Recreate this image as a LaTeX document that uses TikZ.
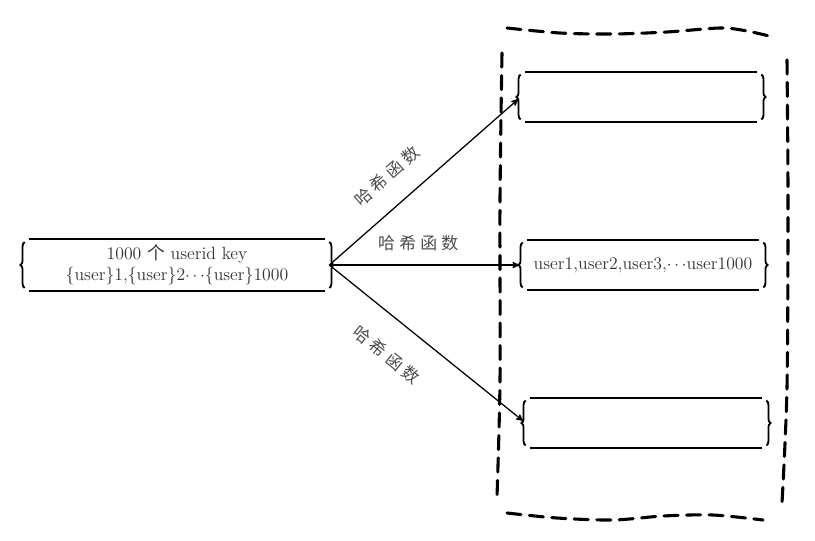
\documentclass[tikz,border=0pt]{standalone}
\usepackage{fontspec}
\newfontfamily\cjk{Noto Sans CJK SC}
\usetikzlibrary{arrows}
\usetikzlibrary{decorations.pathreplacing}

\newcommand{\hashname}{哈\hspace{3pt}希\hspace{3pt}函\hspace{3pt}数}

\tikzset{
	slotbox/.style={minimum width=6cm, minimum height=1.25cm, inner sep=0pt, font=\fontsize{12.6}{15}\selectfont, text=black!80},
	edge/.style={line width=1.3pt},
	curly/.style={edge, decorate, decoration={brace, amplitude=3pt}},
	fence/.style={line width=2.2pt, dash pattern=on 10pt off 6pt, line cap=round},
	hash/.style={->, >=stealth', line width=0.9pt, shorten >=2pt},
	hashlabel/.style={font=\cjk\large, text=black!70, sloped},
}

\begin{document}
\begin{tikzpicture}[x=0.025cm, y=-0.025cm]
					\useasboundingbox (0,0) rectangle (815,540);
					% dashed container
					\draw[fence] plot[smooth] coordinates {(507,28) (560,33) (613,34) (667,32) (720,28) (747,31) (773,37)};
					\draw[fence] plot[smooth] coordinates {(502,53) (500,200) (500,380) (497,497)};
					\draw[fence] plot[smooth] coordinates {(787,60) (788,200) (787,387) (782,503)};
					\draw[fence] plot[smooth] coordinates {(507,513) (557,518) (613,520) (663,516) (713,515) (763,520)};
					% boxes
					\node[slotbox, minimum width=7.6cm, minimum height=1.275cm, align=center] (keys) at (177,265)
						{1000 {\cjk 个} userid key\\\{user\}1,\{user\}2$\cdots$\{user\}1000};
					\node[slotbox] (slotA) at (641,97) {};
					\node[slotbox] (slotB) at (643,265) {user1,user2,user3,$\cdots$user1000};
					\node[slotbox] (slotC) at (646,423) {};
					\foreach \slot in {keys,slotA,slotB,slotC} {
						\draw[edge] ([xshift=3pt]\slot.north west) -- ([xshift=-3pt]\slot.north east);
						\draw[edge] ([xshift=3pt]\slot.south west) -- ([xshift=-3pt]\slot.south east);
						\draw[curly] ([yshift=2pt]\slot.south west) -- ([yshift=-2pt]\slot.north west);
						\draw[curly] ([yshift=-2pt]\slot.north east) -- ([yshift=2pt]\slot.south east);
					}
					% hash arrows
					\draw[hash] (keys.east) -- node[hashlabel, above=11pt, pos=0.4] {\hashname} (slotA.west);
					\draw[hash] (keys.east) -- node[hashlabel, above=6pt, pos=0.46] {\hashname} (slotB.west);
					\draw[hash] (keys.east) -- node[hashlabel, below=15pt, pos=0.4] {\hashname} (slotC.west);
				\end{tikzpicture}
\end{document}
